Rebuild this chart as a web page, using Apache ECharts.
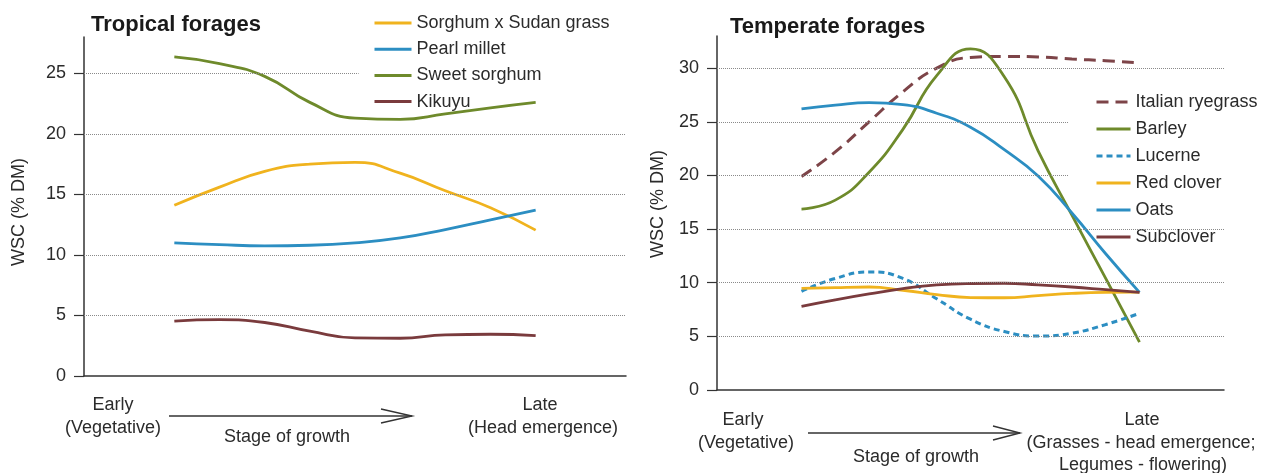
<!DOCTYPE html>
<html><head><meta charset="utf-8">
<script src="https://cdn.jsdelivr.net/npm/echarts@6/dist/echarts.min.js"></script>
<style>html,body{margin:0;padding:0;background:#fff}#c{width:1270px;height:473px}</style>
</head><body><div id="c"></div><script>
// ---- Data (stage of growth: 0 = early, 100 = late) ----
const stageL = [0, 12.5, 25, 37.5, 50, 62.5, 75, 87.5, 100];
const sorghumSudan = [14.1, 15.6, 16.9, 17.5, 17.65, 16.75, 15.3, 13.9, 12.05];
const pearlMillet  = [11.0, 10.85, 10.75, 10.8, 11.0, 11.4, 12.1, 12.9, 13.7];
const sweetSorghum = [26.35, 25.8, 24.75, 22.6, 21.3, 21.2, 21.65, 22.15, 22.6];
const kikuyu       = [4.54, 4.65, 4.42, 3.7, 3.15, 3.12, 3.4, 3.45, 3.33];

const stageR = [0, 10, 20, 30, 40, 50, 60, 70, 80, 90, 100];
const italianRyegrass = [19.9, 22.2, 25.0, 27.8, 30.0, 31.0, 31.1, 31.05, 30.85, 30.7, 30.5];
const barley          = [16.86, 17.7, 20.3, 24.3, 29.3, 31.8, 29.2, 22.3, 16.3, 10.4, 4.47];
const lucerne         = [9.2, 10.4, 11.0, 10.4, 8.5, 6.6, 5.45, 5.03, 5.3, 6.1, 7.15];
const redClover       = [9.47, 9.55, 9.6, 9.3, 8.9, 8.62, 8.6, 8.8, 9.0, 9.1, 9.12];
const oats            = [26.2, 26.55, 26.78, 26.6, 25.8, 24.5, 22.4, 19.95, 16.5, 12.7, 9.1];
const subclover       = [7.8, 8.4, 8.95, 9.45, 9.8, 9.93, 9.95, 9.8, 9.6, 9.35, 9.1];

const yTicksL = [0, 5, 10, 15, 20, 25];
const yTicksR = [0, 5, 10, 15, 20, 25, 30];

// ---- Styles ----
const FONT = "'Liberation Sans', Arial, sans-serif";
const TXT = '#2b2b2b';
const AX = '#333333';
const C = {yellow:'#F0B31E', blue:'#2C8EC2', green:'#6E8A2B', brown:'#7A3B3D'};

function mk(name, stage, vals, color, idx, type, width) {
  return {
    type: 'line', name, xAxisIndex: idx, yAxisIndex: idx,
    data: stage.map((s, i) => [s, vals[i]]),
    smooth: true, symbol: 'none', z: 3,
    lineStyle: {color, width: width || 2.8, type: type || 'solid', cap: 'butt'},
    itemStyle: {color}
  };
}
function gridSeries(idx, ticks, shortVals, shortEnd) {
  return {
    type: 'line', xAxisIndex: idx, yAxisIndex: idx, data: [], z: 1, silent: true,
    markLine: {
      silent: true, symbol: 'none', animation: false, label: {show: false},
      lineStyle: {color: '#8a8a8a', width: 1, type: [1, 1]},
      data: ticks.filter(v => v > 0).map(v => [
        {coord: [-25, v]}, {coord: [shortVals.includes(v) ? shortEnd : 125, v]}
      ])
    }
  };
}
function yAx(idx, max, ticks) {
  return {
    type: 'value', gridIndex: idx, min: 0, max,
    axisLine: {show: true, onZero: false, lineStyle: {color: AX, width: 1.5}},
    axisTick: {show: true, length: 10, customValues: ticks, lineStyle: {color: AX, width: 1.2}},
    axisLabel: {customValues: ticks, margin: 18, fontSize: 18, color: TXT, fontFamily: FONT},
    splitLine: {show: false}
  };
}
function xAx(idx) {
  return {
    type: 'value', gridIndex: idx, min: -25, max: 125,
    axisLine: {show: true, onZero: false, lineStyle: {color: AX, width: 1.5}},
    axisTick: {show: false}, axisLabel: {show: false}, splitLine: {show: false}
  };
}
function txt(text, x, y, opts) {
  return {type: 'text', x, y, silent: true, rotation: (opts && opts.rot) || 0,
    style: Object.assign({text, fill: TXT, font: '18px ' + FONT, textAlign: 'center', textVerticalAlign: 'middle'}, (opts && opts.style) || {})};
}
function arrow(x1, x2, y, head) {
  return [
    {type: 'line', silent: true, shape: {x1, y1: y, x2, y2: y}, style: {stroke: AX, lineWidth: 1.4}},
    {type: 'polyline', silent: true, shape: {points: [[x2 - head, y - 7], [x2, y], [x2 - head, y + 7]]}, style: {stroke: AX, lineWidth: 1.4, fill: null}}
  ];
}

const legendBase = {orient: 'vertical', itemHeight: 14, padding: 0,
  itemStyle: {opacity: 0},
  lineStyle: {width: 3},
  textStyle: {fontSize: 18, color: TXT, fontFamily: FONT}};

const chart = echarts.init(document.getElementById('c'), null, {renderer: 'canvas'});
chart.setOption({
  animation: false,
  backgroundColor: '#fff',
  grid: [
    {left: 84, top: 37, width: 542, bottom: 97},
    {left: 717, top: 36, width: 507, bottom: 83}
  ],
  xAxis: [xAx(0), xAx(1)],
  yAxis: [yAx(0, 28, yTicksL), yAx(1, 33, yTicksR)],
  legend: [
    Object.assign({left: 373, top: 14, itemWidth: 37, itemGap: 8.2,
     data: ['Sorghum x Sudan grass', 'Pearl millet', 'Sweet sorghum', 'Kikuyu']}, legendBase),
    Object.assign({left: 1095, top: 93, itemWidth: 34, itemGap: 9,
     data: ['Italian ryegrass', 'Barley', 'Lucerne', 'Red clover', 'Oats', 'Subclover']}, legendBase)
  ],
  series: [
    gridSeries(0, yTicksL, [25], 51),
    gridSeries(1, yTicksR, [25, 20], 79),
    mk('Sorghum x Sudan grass', stageL, sorghumSudan, C.yellow, 0),
    mk('Pearl millet', stageL, pearlMillet, C.blue, 0),
    mk('Sweet sorghum', stageL, sweetSorghum, C.green, 0),
    mk('Kikuyu', stageL, kikuyu, C.brown, 0),
    mk('Italian ryegrass', stageR, italianRyegrass, '#7D4448', 1, [12, 7], 3),
    mk('Barley', stageR, barley, C.green, 1),
    mk('Lucerne', stageR, lucerne, C.blue, 1, [6, 4], 3),
    mk('Red clover', stageR, redClover, C.yellow, 1),
    mk('Oats', stageR, oats, C.blue, 1),
    mk('Subclover', stageR, subclover, C.brown, 1)
  ],
  graphic: [
    txt('Tropical forages', 91, 25, {style: {textAlign: 'left', font: 'bold 22px ' + FONT, fill: '#1a1a1a'}}),
    txt('Temperate forages', 730, 27, {style: {textAlign: 'left', font: 'bold 22px ' + FONT, fill: '#1a1a1a'}}),
    txt('WSC (% DM)', 19, 212, {rot: Math.PI / 2}),
    txt('WSC (% DM)', 658, 204, {rot: Math.PI / 2}),
    txt('Early', 113, 405), txt('(Vegetative)', 113, 428),
    txt('Stage of growth', 287, 437),
    txt('Late', 540, 405), txt('(Head emergence)', 543, 428),
    txt('Early', 743, 420), txt('(Vegetative)', 746, 443),
    txt('Stage of growth', 916, 457),
    txt('Late', 1142, 420), txt('(Grasses - head emergence;', 1141, 443), txt('Legumes - flowering)', 1143, 465),
    ...arrow(169, 412, 416, 31),
    ...arrow(808, 1020, 433, 27)
  ]
});
</script></body></html>
